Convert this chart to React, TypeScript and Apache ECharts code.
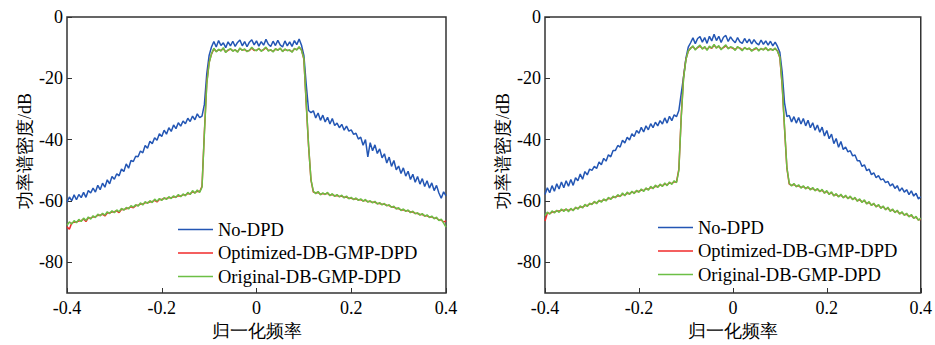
import React, { useEffect, useRef } from "react";
import * as echarts from "echarts";

const FREQ_START = -0.4;
const FREQ_STEP = 0.005;

const xTicks = [-0.4, -0.2, 0, 0.2, 0.4];
const yTicks = [0, -20, -40, -60, -80];
const seriesNames = ["No-DPD", "Optimized-DB-GMP-DPD", "Original-DB-GMP-DPD"];
const xTitle = "归一化频率";
const yTitle = "功率谱密度/dB";

// Left panel
const leftNoDPD = [
  -60.4, -58.7, -59.9, -58.0, -59.6, -57.9, -58.9, -57.2, -58.8, -56.6,
  -57.4, -55.8, -57.1, -54.9, -56.3, -54.2, -55.5, -53.1, -54.4, -52.0,
  -52.9, -51.1, -51.8, -49.6, -50.4, -47.9, -49.3, -46.8, -47.1, -45.4,
  -45.6, -43.7, -44.3, -41.9, -42.8, -40.5, -41.3, -39.4, -40.2, -38.1,
  -39.0, -36.9, -38.2, -36.1, -37.3, -35.2, -36.4, -34.5, -35.6, -33.9,
  -34.8, -33.0, -34.1, -32.3, -33.5, -31.6, -32.8,
  -32.3, -28.5, -18.5, -12.5, -9.8,
  -8.0, -9.8, -7.7, -9.3, -8.4, -10.0, -8.1, -9.4, -7.9, -9.6,
  -8.3, -7.5, -9.4, -8.0, -9.7, -8.2, -7.4, -9.1, -7.8, -9.5,
  -8.0, -9.2, -7.3, -8.9, -9.6, -7.9, -9.3, -7.6, -9.1, -9.8,
  -7.8, -9.4, -8.1, -9.6, -7.7, -9.0, -7.2, -9.2,
  -12.5, -22.0, -30.5, -31.2,
  -30.6, -32.9, -31.3, -33.7, -32.0, -34.2, -32.7, -34.9, -33.1, -35.4,
  -34.6, -36.1, -35.0, -36.9, -35.6, -37.2, -36.8, -38.3, -37.9, -39.8,
  -39.2, -41.8, -40.0, -45.6, -41.0, -43.6, -41.7, -44.5, -43.0, -45.9,
  -44.6, -47.6, -45.7, -48.7, -46.8, -49.8, -48.6, -51.0, -49.2, -51.9,
  -50.3, -53.0, -51.3, -53.9, -52.0, -54.5, -52.7, -55.3, -53.4, -55.8,
  -54.1, -56.6, -54.9, -57.4, -59.1, -57.0, -58.3,
];

const leftOptimized = [
  -68.4, -69.2, -67.2, -66.9, -66.8, -66.5, -66.4, -65.9, -66.7, -65.5,
  -65.6, -65.2, -65.1, -64.7, -64.6, -64.3, -64.9, -63.9, -63.8, -63.6,
  -63.5, -63.2, -63.8, -62.7, -62.8, -62.5, -62.3, -61.9, -62.2, -61.5,
  -61.4, -61.0, -61.0, -60.6, -60.5, -60.3, -60.2, -59.8, -60.3, -59.5,
  -59.5, -59.2, -59.2, -58.9, -58.9, -58.7, -58.6, -58.3, -58.4, -58.0,
  -58.0, -57.6, -57.6, -57.0, -57.3, -56.8, -57.0,
  -55.2, -37.5, -21.5, -14.8, -12.1,
  -10.4, -11.2, -10.7, -10.9, -10.3, -11.4, -10.9, -10.5, -11.0, -10.8,
  -11.3, -10.3, -10.8, -10.6, -11.1, -10.9, -10.1, -10.9, -10.8, -10.4,
  -11.0, -10.7, -10.0, -10.9, -10.8, -11.2, -10.5, -10.7, -10.3, -11.1,
  -10.6, -10.8, -10.9, -11.3, -10.4, -10.6, -9.9, -10.7,
  -13.8, -28.5, -42.3, -53.2, -57.1,
  -57.3, -57.2, -57.8, -57.6, -57.7, -57.5, -58.1, -57.9, -58.3, -58.2,
  -58.5, -58.4, -58.8, -58.7, -59.1, -59.1, -59.4, -59.3, -59.6, -59.6,
  -59.9, -59.8, -60.2, -60.2, -60.4, -60.4, -60.8, -60.8, -61.1, -61.1,
  -61.4, -61.5, -61.9, -62.0, -62.4, -62.5, -62.9, -62.9, -63.2, -63.2,
  -63.6, -63.6, -64.0, -64.1, -64.4, -64.4, -64.8, -64.8, -65.2, -65.2,
  -65.6, -65.6, -66.2, -66.2, -66.9, -66.5,
];

const leftOriginal = [
  -67.9, -66.8, -67.5, -66.4, -67.1, -66.0, -66.7, -65.6, -66.3, -65.2,
  -65.9, -64.8, -65.4, -64.3, -64.9, -64.0, -64.6, -63.5, -64.1, -63.2,
  -63.8, -62.9, -63.5, -62.4, -63.0, -62.1, -62.6, -61.5, -62.0, -61.2,
  -61.7, -60.6, -61.3, -60.2, -60.8, -59.9, -60.5, -59.4, -60.1, -59.2,
  -59.8, -58.9, -59.5, -58.6, -59.2, -58.3, -58.9, -57.9, -58.6, -57.7,
  -58.3, -57.2, -57.9, -56.6, -57.5, -56.4, -57.2,
  -55.5, -38.0, -22.0, -15.0, -12.0,
  -10.2, -11.4, -10.5, -11.1, -10.0, -11.6, -10.7, -10.3, -11.2, -10.6,
  -11.5, -10.1, -10.9, -10.4, -11.3, -10.8, -9.9, -10.7, -11.0, -10.2,
  -11.2, -10.5, -9.8, -11.1, -10.6, -11.4, -10.3, -10.9, -10.1, -11.3,
  -10.4, -11.0, -10.7, -11.5, -10.2, -10.8, -9.7, -10.9,
  -13.5, -28.0, -42.0, -53.0, -56.8,
  -57.6, -56.9, -58.0, -57.3, -57.9, -57.2, -58.3, -57.6, -58.5, -57.9,
  -58.7, -58.1, -59.0, -58.4, -59.3, -58.8, -59.6, -59.0, -59.8, -59.3,
  -60.1, -59.5, -60.4, -59.9, -60.6, -60.1, -61.0, -60.5, -61.3, -60.8,
  -61.6, -61.2, -62.1, -61.7, -62.6, -62.2, -63.1, -62.6, -63.4, -62.9,
  -63.8, -63.3, -64.2, -63.8, -64.6, -64.1, -65.0, -64.5, -65.4, -64.9,
  -65.8, -65.3, -66.4, -65.9, -67.2, -68.5,
];

// Right panel
const rightNoDPD = [
  -57.9, -55.7, -57.3, -55.0, -56.8, -54.4, -56.1, -53.8, -55.7, -53.4,
  -55.2, -53.0, -54.9, -52.4, -53.4, -51.2, -52.9, -50.4, -51.5, -49.6,
  -50.0, -48.7, -49.4, -47.3, -48.2, -46.1, -47.0, -44.9, -45.6, -43.5,
  -43.5, -41.9, -42.4, -40.2, -41.1, -39.2, -40.1, -38.1, -39.0, -37.0,
  -37.9, -36.0, -37.5, -35.5, -36.8, -34.8, -36.1, -34.3, -35.5, -33.8,
  -34.9, -32.9, -34.6, -32.4, -33.8, -31.9, -32.5,
  -30.5, -25.0, -19.5, -13.5, -9.8,
  -8.4, -6.8, -8.7, -7.0, -6.4, -8.2, -6.7, -8.6, -6.3, -7.8,
  -5.6, -7.7, -6.3, -8.3, -6.6, -6.0, -8.0, -6.5, -7.6, -8.4,
  -6.7, -8.1, -8.6, -7.0, -8.4, -7.2, -8.8, -7.4, -8.5, -9.1,
  -7.5, -8.9, -7.8, -9.2, -7.9, -9.4, -8.2, -9.6,
  -11.5, -18.0, -28.0, -32.5,
  -32.1, -34.2, -32.5, -34.6, -32.8, -34.9, -33.1, -35.5, -33.7, -36.1,
  -34.5, -36.9, -35.2, -37.6, -35.9, -38.8, -37.0, -39.7, -38.2, -41.3,
  -39.6, -42.5, -40.6, -43.2, -42.4, -44.0, -43.6, -45.3, -45.0, -46.9,
  -46.9, -48.7, -48.2, -50.1, -49.6, -51.4, -50.8, -52.4, -51.7, -53.1,
  -52.8, -54.0, -53.6, -55.1, -54.4, -55.9, -55.0, -56.8, -55.7, -57.1,
  -56.3, -57.9, -56.7, -58.4, -57.5, -59.3, -58.6,
];

const rightOptimized = [
  -66.5, -63.9, -64.1, -63.6, -63.6, -63.3, -63.3, -63.0, -63.0, -62.8,
  -63.1, -62.7, -62.9, -62.3, -62.4, -61.9, -62.0, -61.5, -61.5, -61.0,
  -60.9, -60.4, -60.6, -60.0, -60.1, -59.6, -59.7, -59.2, -59.2, -58.8,
  -58.7, -58.3, -58.4, -57.8, -58.0, -57.5, -57.6, -57.1, -57.3, -56.8,
  -56.9, -56.4, -56.6, -56.0, -56.2, -55.6, -55.7, -55.2, -55.3, -54.8,
  -55.0, -54.5, -54.7, -54.1, -54.3, -53.7, -53.8,
  -49.6, -32.5, -19.6, -13.8, -11.2,
  -10.1, -9.7, -10.5, -10.0, -9.5, -10.3, -9.9, -10.6, -9.8, -10.2,
  -9.2, -10.0, -9.6, -10.4, -10.0, -9.4, -10.2, -9.9, -10.2, -10.6,
  -9.9, -10.1, -10.7, -10.1, -10.4, -10.3, -10.9, -10.6, -10.2, -10.8,
  -10.4, -10.6, -10.2, -10.8, -10.5, -10.7, -10.4, -11.0,
  -13.3, -22.5, -36.4, -49.3, -54.5,
  -54.9, -54.6, -55.2, -55.0, -55.6, -55.3, -55.8, -55.6, -56.1, -55.9,
  -56.5, -56.2, -56.8, -56.5, -57.3, -56.9, -57.7, -57.3, -58.2, -57.9,
  -58.5, -58.1, -58.8, -58.4, -59.1, -58.7, -59.4, -59.1, -59.9, -59.6,
  -60.3, -59.9, -60.8, -60.5, -61.3, -61.0, -61.8, -61.4, -62.2, -61.9,
  -62.7, -62.3, -63.2, -62.9, -63.6, -63.3, -64.1, -63.8, -64.5, -64.3,
  -65.0, -64.7, -65.5, -65.3, -66.1, -66.0,
];

const rightOriginal = [
  -64.8, -63.6, -64.3, -63.2, -63.9, -63.0, -63.7, -62.6, -63.4, -62.5,
  -63.5, -62.4, -63.2, -62.0, -62.7, -61.6, -62.3, -61.1, -61.8, -60.7,
  -61.2, -60.1, -60.9, -59.7, -60.4, -59.3, -60.0, -58.8, -59.5, -58.4,
  -59.0, -57.9, -58.6, -57.4, -58.3, -57.1, -57.9, -56.8, -57.6, -56.5,
  -57.2, -56.1, -56.9, -55.7, -56.5, -55.2, -56.0, -54.8, -55.6, -54.5,
  -55.3, -54.1, -55.0, -53.8, -54.6, -53.4, -54.0,
  -50.0, -33.0, -20.0, -14.0, -11.0,
  -10.3, -9.4, -10.8, -9.8, -9.2, -10.5, -9.6, -10.9, -9.5, -10.1,
  -8.9, -10.2, -9.3, -10.7, -9.8, -9.1, -10.4, -9.7, -10.0, -10.9,
  -9.6, -10.3, -11.0, -9.9, -10.6, -10.1, -11.2, -10.4, -10.0, -11.1,
  -10.2, -10.8, -9.9, -11.0, -10.3, -10.9, -10.1, -11.2,
  -13.0, -22.0, -36.0, -49.0, -54.2,
  -55.1, -54.3, -55.4, -54.7, -55.8, -55.0, -56.1, -55.3, -56.4, -55.6,
  -56.7, -55.9, -57.0, -56.2, -57.5, -56.6, -57.9, -57.0, -58.4, -57.6,
  -58.7, -57.8, -59.0, -58.1, -59.3, -58.4, -59.6, -58.8, -60.1, -59.3,
  -60.5, -59.6, -61.0, -60.2, -61.5, -60.7, -62.0, -61.1, -62.4, -61.6,
  -62.9, -62.0, -63.4, -62.6, -63.8, -63.0, -64.3, -63.5, -64.7, -64.0,
  -65.2, -64.4, -65.7, -65.0, -66.3, -65.6,
];

const COLORS = ["#2356b4", "#f02a2a", "#6cbf45"];
const SERIF = "Liberation Serif, Times New Roman, serif";

function pairs(values: number[]) {
  return values.map((v, i) => [
    Number((FREQ_START + i * FREQ_STEP).toFixed(3)),
    v,
  ]);
}

export default function App() {
  const ref = useRef<HTMLDivElement>(null);

  useEffect(() => {
    if (!ref.current) return;
    const chart = echarts.init(ref.current, undefined, { renderer: "svg" });

    const grids = [
      { left: 67, right: 489, top: 17, height: 279 },
      { left: 545, right: 12, top: 17, height: 279 },
    ];

    const labelStyle = {
      color: "#000",
      fontFamily: SERIF,
      fontSize: 18,
    };

    const makeX = (gi: number) => ({
      type: "value",
      gridIndex: gi,
      min: -0.4,
      max: 0.4,
      interval: 0.2,
      axisLine: { show: false, onZero: false },
      axisTick: {
        show: true,
        inside: true,
        length: 5,
        lineStyle: { color: "#333", width: 1 },
      },
      splitLine: { show: false },
      axisLabel: {
        ...labelStyle,
        margin: 6,
        formatter: (v: number) =>
          xTicks.some((t) => Math.abs(t - v) < 1e-9) ? String(Number(v.toFixed(1))) : "",
      },
      name: xTitle,
      nameLocation: "middle",
      nameGap: 29,
      nameTextStyle: { ...labelStyle, verticalAlign: "top" },
    });

    const makeY = (gi: number) => ({
      type: "value",
      gridIndex: gi,
      min: -90,
      max: 0,
      axisLine: { show: false, onZero: false },
      axisTick: {
        show: true,
        inside: true,
        length: 5,
        customValues: yTicks,
        lineStyle: { color: "#333", width: 1 },
      },
      splitLine: { show: false },
      axisLabel: {
        ...labelStyle,
        margin: 4,
        customValues: yTicks,
        formatter: (v: number) => String(v),
      },
      name: yTitle,
      nameLocation: "middle",
      nameGap: 33,
      nameRotate: 90,
      nameTextStyle: {
        ...labelStyle,
        padding: [0, 0, 0, 8],
      },
    });

    const panels = [
      [leftNoDPD, leftOptimized, leftOriginal],
      [rightNoDPD, rightOptimized, rightOriginal],
    ];

    const series: any[] = [];
    panels.forEach((p, gi) => {
      p.forEach((vals, si) => {
        series.push({
          type: "line",
          name: seriesNames[si],
          xAxisIndex: gi,
          yAxisIndex: gi,
          data: pairs(vals),
          symbol: "none",
          showSymbol: false,
          lineStyle: { color: COLORS[si], width: 1.5 },
          itemStyle: { color: COLORS[si] },
          z: 2 + si,
        });
      });
    });

    const legendBase = {
      orient: "vertical",
      padding: 0,
      icon: "rect",
      itemWidth: 35,
      itemHeight: 1.5,
      itemGap: 4.5,
      selectedMode: false,
      data: seriesNames,
      textStyle: { ...labelStyle, fontSize: 18.5, lineHeight: 18 },
    };

    chart.setOption({
      animation: false,
      backgroundColor: "#fff",
      textStyle: { fontFamily: SERIF },
      grid: grids.map((g) => ({
        ...g,
        show: true,
        borderColor: "#333",
        borderWidth: 1.5,
        backgroundColor: "transparent",
      })),
      xAxis: [makeX(0), makeX(1)],
      yAxis: [makeY(0), makeY(1)],
      legend: [
        { ...legendBase, left: 178, top: 220 },
        { ...legendBase, left: 658, top: 218 },
      ],
      series,
    });

    return () => chart.dispose();
  }, []);

  return (
    <div
      ref={ref}
      style={{ position: "fixed", left: 0, top: 0, width: 935, height: 345 }}
    />
  );
}
